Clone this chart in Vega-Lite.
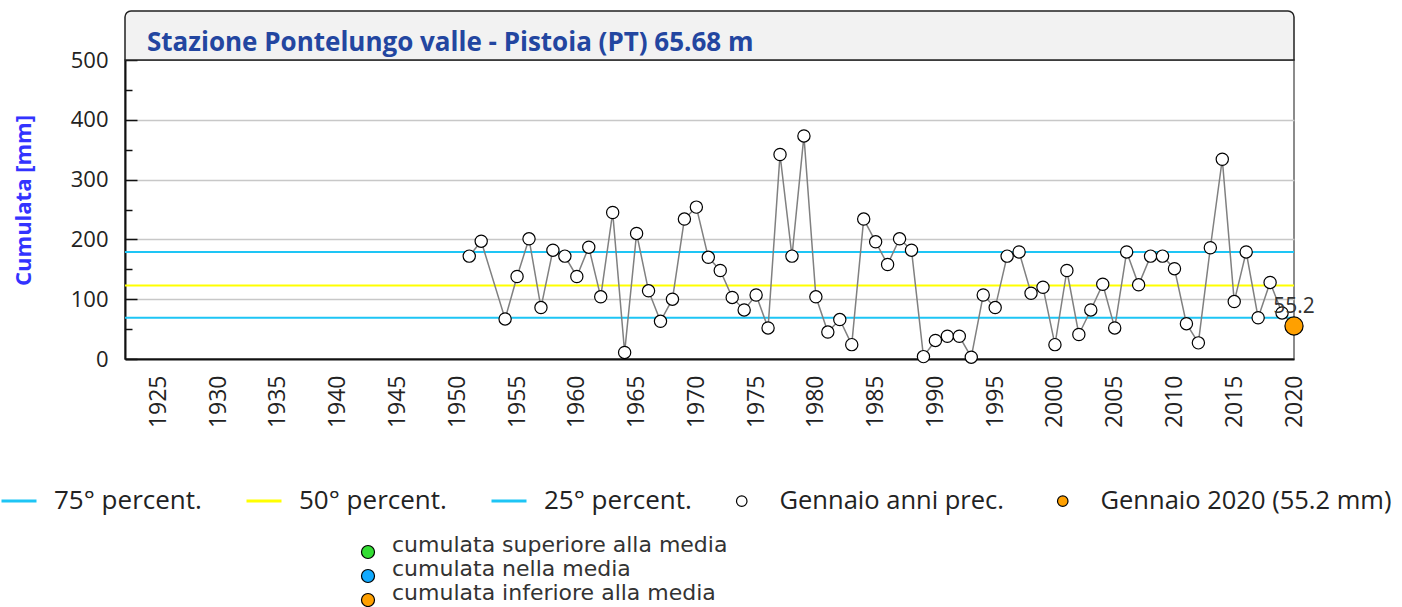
{
  "$schema": "https://vega.github.io/schema/vega-lite/v6.json",
  "width": 1169,
  "height": 299,
  "autosize": {"type": "none"},
  "padding": {"left": 125, "top": 60, "right": 108, "bottom": 248},
  "background": "white",
  "config": {
    "view": {"stroke": "#666", "strokeWidth": 1.5},
    "font": "Open Sans",
    "axisX": {"domainColor": "#111", "domainWidth": 2, "labelFont": "Open Sans", "labelFontSize": 23, "labelColor": "#222"},
    "axisY": {
      "tickColor": "#111", "tickWidth": 1.5, "gridColor": "#c8c8c8", "gridWidth": 1.5,
      "domainColor": "#111", "domainWidth": 2, "labelFont": "Open Sans", "labelFontSize": 22, "labelColor": "#222",
      "titleFont": "Open Sans", "titleFontWeight": "bold", "titleFontSize": 22, "titleColor": "#3333ff", "titlePadding": 35, "titleY": 140
    }
  },
  "title": {
    "text": "Stazione Pontelungo valle - Pistoia (PT) 65.68 m",
    "anchor": "start",
    "frame": "group",
    "font": "Open Sans",
    "fontSize": 26,
    "fontWeight": "bold",
    "color": "#2346a0",
    "dx": 22,
    "offset": -67,
    "baseline": "alphabetic"
  },
  "datasets": {
    "serie": [
      {"anno": 1951, "valore": 172, "tipo": "Gennaio anni prec."},
      {"anno": 1952, "valore": 197, "tipo": "Gennaio anni prec."},
      {"anno": 1954, "valore": 67, "tipo": "Gennaio anni prec."},
      {"anno": 1955, "valore": 138, "tipo": "Gennaio anni prec."},
      {"anno": 1956, "valore": 201, "tipo": "Gennaio anni prec."},
      {"anno": 1957, "valore": 86, "tipo": "Gennaio anni prec."},
      {"anno": 1958, "valore": 182, "tipo": "Gennaio anni prec."},
      {"anno": 1959, "valore": 172, "tipo": "Gennaio anni prec."},
      {"anno": 1960, "valore": 138, "tipo": "Gennaio anni prec."},
      {"anno": 1961, "valore": 187, "tipo": "Gennaio anni prec."},
      {"anno": 1962, "valore": 104, "tipo": "Gennaio anni prec."},
      {"anno": 1963, "valore": 245, "tipo": "Gennaio anni prec."},
      {"anno": 1964, "valore": 11, "tipo": "Gennaio anni prec."},
      {"anno": 1965, "valore": 210, "tipo": "Gennaio anni prec."},
      {"anno": 1966, "valore": 114, "tipo": "Gennaio anni prec."},
      {"anno": 1967, "valore": 63, "tipo": "Gennaio anni prec."},
      {"anno": 1968, "valore": 100, "tipo": "Gennaio anni prec."},
      {"anno": 1969, "valore": 234, "tipo": "Gennaio anni prec."},
      {"anno": 1970, "valore": 254, "tipo": "Gennaio anni prec."},
      {"anno": 1971, "valore": 170, "tipo": "Gennaio anni prec."},
      {"anno": 1972, "valore": 148, "tipo": "Gennaio anni prec."},
      {"anno": 1973, "valore": 103, "tipo": "Gennaio anni prec."},
      {"anno": 1974, "valore": 82, "tipo": "Gennaio anni prec."},
      {"anno": 1975, "valore": 107, "tipo": "Gennaio anni prec."},
      {"anno": 1976, "valore": 52, "tipo": "Gennaio anni prec."},
      {"anno": 1977, "valore": 342, "tipo": "Gennaio anni prec."},
      {"anno": 1978, "valore": 172, "tipo": "Gennaio anni prec."},
      {"anno": 1979, "valore": 373, "tipo": "Gennaio anni prec."},
      {"anno": 1980, "valore": 104, "tipo": "Gennaio anni prec."},
      {"anno": 1981, "valore": 45, "tipo": "Gennaio anni prec."},
      {"anno": 1982, "valore": 66, "tipo": "Gennaio anni prec."},
      {"anno": 1983, "valore": 24, "tipo": "Gennaio anni prec."},
      {"anno": 1984, "valore": 234, "tipo": "Gennaio anni prec."},
      {"anno": 1985, "valore": 196, "tipo": "Gennaio anni prec."},
      {"anno": 1986, "valore": 158, "tipo": "Gennaio anni prec."},
      {"anno": 1987, "valore": 201, "tipo": "Gennaio anni prec."},
      {"anno": 1988, "valore": 182, "tipo": "Gennaio anni prec."},
      {"anno": 1989, "valore": 4, "tipo": "Gennaio anni prec."},
      {"anno": 1990, "valore": 31, "tipo": "Gennaio anni prec."},
      {"anno": 1991, "valore": 38, "tipo": "Gennaio anni prec."},
      {"anno": 1992, "valore": 38, "tipo": "Gennaio anni prec."},
      {"anno": 1993, "valore": 3, "tipo": "Gennaio anni prec."},
      {"anno": 1994, "valore": 107, "tipo": "Gennaio anni prec."},
      {"anno": 1995, "valore": 86, "tipo": "Gennaio anni prec."},
      {"anno": 1996, "valore": 172, "tipo": "Gennaio anni prec."},
      {"anno": 1997, "valore": 179, "tipo": "Gennaio anni prec."},
      {"anno": 1998, "valore": 110, "tipo": "Gennaio anni prec."},
      {"anno": 1999, "valore": 120, "tipo": "Gennaio anni prec."},
      {"anno": 2000, "valore": 24, "tipo": "Gennaio anni prec."},
      {"anno": 2001, "valore": 148, "tipo": "Gennaio anni prec."},
      {"anno": 2002, "valore": 41, "tipo": "Gennaio anni prec."},
      {"anno": 2003, "valore": 82, "tipo": "Gennaio anni prec."},
      {"anno": 2004, "valore": 125, "tipo": "Gennaio anni prec."},
      {"anno": 2005, "valore": 52, "tipo": "Gennaio anni prec."},
      {"anno": 2006, "valore": 179, "tipo": "Gennaio anni prec."},
      {"anno": 2007, "valore": 124, "tipo": "Gennaio anni prec."},
      {"anno": 2008, "valore": 172, "tipo": "Gennaio anni prec."},
      {"anno": 2009, "valore": 172, "tipo": "Gennaio anni prec."},
      {"anno": 2010, "valore": 151, "tipo": "Gennaio anni prec."},
      {"anno": 2011, "valore": 59, "tipo": "Gennaio anni prec."},
      {"anno": 2012, "valore": 27, "tipo": "Gennaio anni prec."},
      {"anno": 2013, "valore": 186, "tipo": "Gennaio anni prec."},
      {"anno": 2014, "valore": 334, "tipo": "Gennaio anni prec."},
      {"anno": 2015, "valore": 96, "tipo": "Gennaio anni prec."},
      {"anno": 2016, "valore": 179, "tipo": "Gennaio anni prec."},
      {"anno": 2017, "valore": 69, "tipo": "Gennaio anni prec."},
      {"anno": 2018, "valore": 128, "tipo": "Gennaio anni prec."},
      {"anno": 2019, "valore": 77, "tipo": "Gennaio anni prec."},
      {"anno": 2020, "valore": 55.2, "tipo": "Gennaio 2020 (55.2 mm)", "categoria": "cumulata inferiore alla media"}
    ],
    "percentili": [
      {"serie": "75° percent.", "valore": 179},
      {"serie": "50° percent.", "valore": 123},
      {"serie": "25° percent.", "valore": 69}
    ],
    "riquadro": [{"titolo": "box"}]
  },
  "layer": [
    {
      "data": {"name": "riquadro"},
      "mark": {"type": "rect", "fill": "#f2f2f2", "stroke": "#222", "strokeWidth": 1.5, "cornerRadiusTopLeft": 6, "cornerRadiusTopRight": 6},
      "encoding": {
        "x": {"datum": 1922.2, "type": "quantitative", "scale": {"domain": [1922.2, 2020], "nice": false, "zero": false},
          "axis": {"values": [1925, 1930, 1935, 1940, 1945, 1950, 1955, 1960, 1965, 1970, 1975, 1980, 1985, 1990, 1995, 2000, 2005, 2010, 2015, 2020], "format": "d", "labelAngle": 270, "labelAlign": "right", "labelBaseline": "middle", "ticks": false, "grid": false, "labelPadding": 16, "title": null}},
        "x2": {"datum": 2020},
        "y": {"datum": 500, "type": "quantitative", "scale": {"domain": [0, 500], "nice": false},
          "axis": {"values": [0, 50, 100, 150, 200, 250, 300, 350, 400, 450, 500], "labelExpr": "datum.value % 100 === 0 ? datum.label : ''", "tickSize": {"condition": {"test": "datum.value % 100 === 0", "value": -12}, "value": -7}, "grid": true, "gridOpacity": {"condition": {"test": "datum.value % 100 === 0 && datum.value > 0 && datum.value < 500", "value": 1}, "value": 0}, "labelPadding": 29, "title": "Cumulata [mm]"}},
        "y2": {"datum": 582}
      }
    },
    {
      "data": {"name": "percentili"},
      "mark": {"type": "rule", "strokeWidth": 2},
      "encoding": {
        "y": {"field": "valore", "type": "quantitative", "scale": {"domain": [0, 500], "nice": false},
          "axis": {"values": [0, 50, 100, 150, 200, 250, 300, 350, 400, 450, 500], "labelExpr": "datum.value % 100 === 0 ? datum.label : ''", "tickSize": {"condition": {"test": "datum.value % 100 === 0", "value": -12}, "value": -7}, "grid": true, "gridOpacity": {"condition": {"test": "datum.value % 100 === 0 && datum.value > 0 && datum.value < 500", "value": 1}, "value": 0}, "labelPadding": 29, "title": "Cumulata [mm]"}},
        "stroke": {
          "field": "serie",
          "type": "nominal",
          "scale": {"domain": ["75° percent.", "50° percent.", "25° percent."], "range": ["#1ec5f5", "#ffff00", "#1ec5f5"]},
          "legend": {
            "orient": "none", "legendX": -125, "legendY": 422, "direction": "horizontal", "title": null,
            "symbolType": "stroke", "symbolSize": 1225, "symbolStrokeWidth": 3,
            "labelFont": "Open Sans", "labelFontSize": 26, "labelColor": "#222", "labelLimit": 0,
            "labelOffset": 16, "columnPadding": 38
          }
        }
      }
    },
    {
      "data": {"name": "serie"},
      "mark": {"type": "line", "color": "#808080", "strokeWidth": 1.5},
      "encoding": {
        "x": {"field": "anno", "type": "quantitative", "scale": {"domain": [1922.2, 2020], "nice": false, "zero": false},
          "axis": {"values": [1925, 1930, 1935, 1940, 1945, 1950, 1955, 1960, 1965, 1970, 1975, 1980, 1985, 1990, 1995, 2000, 2005, 2010, 2015, 2020], "format": "d", "labelAngle": 270, "labelAlign": "right", "labelBaseline": "middle", "ticks": false, "grid": false, "labelPadding": 16, "title": null}},
        "y": {"field": "valore", "type": "quantitative", "scale": {"domain": [0, 500], "nice": false},
          "axis": {"values": [0, 50, 100, 150, 200, 250, 300, 350, 400, 450, 500], "labelExpr": "datum.value % 100 === 0 ? datum.label : ''", "tickSize": {"condition": {"test": "datum.value % 100 === 0", "value": -12}, "value": -7}, "grid": true, "gridOpacity": {"condition": {"test": "datum.value % 100 === 0 && datum.value > 0 && datum.value < 500", "value": 1}, "value": 0}, "labelPadding": 29, "title": "Cumulata [mm]"}}
      }
    },
    {
      "data": {"name": "serie"},
      "transform": [{"filter": "datum.tipo === 'Gennaio anni prec.'"}],
      "mark": {"type": "point", "filled": true, "stroke": "black", "strokeWidth": 1.2, "size": 150, "opacity": 1},
      "encoding": {
        "x": {"field": "anno", "type": "quantitative", "scale": {"domain": [1922.2, 2020], "nice": false, "zero": false},
          "axis": {"values": [1925, 1930, 1935, 1940, 1945, 1950, 1955, 1960, 1965, 1970, 1975, 1980, 1985, 1990, 1995, 2000, 2005, 2010, 2015, 2020], "format": "d", "labelAngle": 270, "labelAlign": "right", "labelBaseline": "middle", "ticks": false, "grid": false, "labelPadding": 16, "title": null}},
        "y": {"field": "valore", "type": "quantitative", "scale": {"domain": [0, 500], "nice": false},
          "axis": {"values": [0, 50, 100, 150, 200, 250, 300, 350, 400, 450, 500], "labelExpr": "datum.value % 100 === 0 ? datum.label : ''", "tickSize": {"condition": {"test": "datum.value % 100 === 0", "value": -12}, "value": -7}, "grid": true, "gridOpacity": {"condition": {"test": "datum.value % 100 === 0 && datum.value > 0 && datum.value < 500", "value": 1}, "value": 0}, "labelPadding": 29, "title": "Cumulata [mm]"}},
        "color": {
          "field": "tipo", "type": "nominal",
          "scale": {"domain": ["Gennaio anni prec.", "Gennaio 2020 (55.2 mm)"], "range": ["#ffffff", "#ffa000"]},
          "legend": {
            "orient": "none", "legendX": 604, "legendY": 428, "direction": "horizontal", "title": null,
            "symbolType": "circle", "symbolSize": 110, "symbolStrokeColor": "black", "symbolStrokeWidth": 1.2,
            "labelFont": "Open Sans", "labelFontSize": 25.5, "labelColor": "#222", "labelLimit": 0,
            "labelOffset": 25, "columnPadding": 46,
            "encode": {"symbols": {"update": {"stroke": {"value": "black"}, "strokeWidth": {"value": 1.2}, "opacity": {"value": 1}}}}
          }
        }
      }
    },
    {
      "data": {"name": "serie"},
      "transform": [{"filter": "datum.tipo === 'Gennaio 2020 (55.2 mm)'"}],
      "mark": {"type": "point", "filled": true, "stroke": "black", "strokeWidth": 1.2, "size": 330, "opacity": 1},
      "encoding": {
        "x": {"field": "anno", "type": "quantitative", "scale": {"domain": [1922.2, 2020], "nice": false, "zero": false},
          "axis": {"values": [1925, 1930, 1935, 1940, 1945, 1950, 1955, 1960, 1965, 1970, 1975, 1980, 1985, 1990, 1995, 2000, 2005, 2010, 2015, 2020], "format": "d", "labelAngle": 270, "labelAlign": "right", "labelBaseline": "middle", "ticks": false, "grid": false, "labelPadding": 16, "title": null}},
        "y": {"field": "valore", "type": "quantitative", "scale": {"domain": [0, 500], "nice": false},
          "axis": {"values": [0, 50, 100, 150, 200, 250, 300, 350, 400, 450, 500], "labelExpr": "datum.value % 100 === 0 ? datum.label : ''", "tickSize": {"condition": {"test": "datum.value % 100 === 0", "value": -12}, "value": -7}, "grid": true, "gridOpacity": {"condition": {"test": "datum.value % 100 === 0 && datum.value > 0 && datum.value < 500", "value": 1}, "value": 0}, "labelPadding": 29, "title": "Cumulata [mm]"}},
        "fill": {
          "field": "categoria", "type": "nominal",
          "scale": {"domain": ["cumulata superiore alla media", "cumulata nella media", "cumulata inferiore alla media"], "range": ["#33dd33", "#11aaff", "#ffa000"]},
          "legend": {
            "orient": "none", "legendX": 232, "legendY": 481, "direction": "vertical", "title": null,
            "symbolType": "circle", "symbolSize": 170, "symbolStrokeColor": "black", "symbolStrokeWidth": 1.2,
            "labelFont": "DejaVu Sans", "labelFontSize": 22, "labelColor": "#333", "labelLimit": 0,
            "labelOffset": 13, "rowPadding": -3, "labelBaseline": "alphabetic",
            "encode": {"symbols": {"update": {"opacity": {"value": 1}, "stroke": {"value": "black"}}}}
          }
        }
      }
    },
    {
      "data": {"name": "serie"},
      "transform": [{"filter": "datum.tipo === 'Gennaio 2020 (55.2 mm)'"}],
      "mark": {"type": "text", "dy": -13, "baseline": "alphabetic", "align": "center", "font": "Open Sans", "fontSize": 21, "color": "#333"},
      "encoding": {
        "x": {"field": "anno", "type": "quantitative", "scale": {"domain": [1922.2, 2020], "nice": false, "zero": false},
          "axis": {"values": [1925, 1930, 1935, 1940, 1945, 1950, 1955, 1960, 1965, 1970, 1975, 1980, 1985, 1990, 1995, 2000, 2005, 2010, 2015, 2020], "format": "d", "labelAngle": 270, "labelAlign": "right", "labelBaseline": "middle", "ticks": false, "grid": false, "labelPadding": 16, "title": null}},
        "y": {"field": "valore", "type": "quantitative", "scale": {"domain": [0, 500], "nice": false},
          "axis": {"values": [0, 50, 100, 150, 200, 250, 300, 350, 400, 450, 500], "labelExpr": "datum.value % 100 === 0 ? datum.label : ''", "tickSize": {"condition": {"test": "datum.value % 100 === 0", "value": -12}, "value": -7}, "grid": true, "gridOpacity": {"condition": {"test": "datum.value % 100 === 0 && datum.value > 0 && datum.value < 500", "value": 1}, "value": 0}, "labelPadding": 29, "title": "Cumulata [mm]"}},
        "text": {"field": "valore", "type": "quantitative", "format": ".1f"}
      }
    }
  ]
}
